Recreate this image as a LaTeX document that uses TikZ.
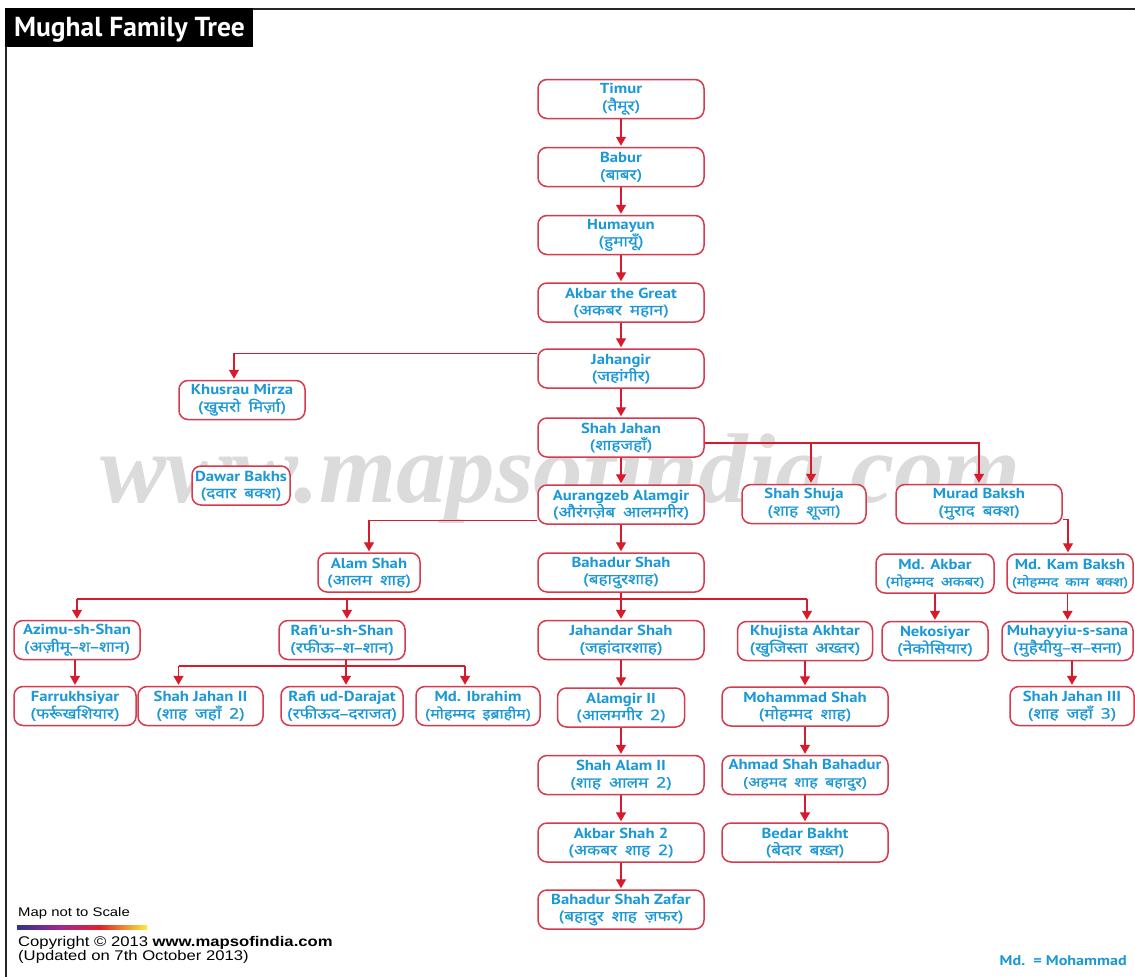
\documentclass[tikz,border=0pt]{standalone}
\usepackage{fontspec}
\setmainfont{PT Sans}
\newfontfamily\engf[FakeStretch=1.15]{PT Sans}
\newfontfamily\hindi[Script=Devanagari, FakeStretch=1.18, WordSpace=1.8, FakeBold=0.8]{Noto Sans}
\newfontfamily\arialf[FakeStretch=1.19]{Liberation Sans}
\newfontfamily\wmfont{Liberation Serif}
\usetikzlibrary{arrows.meta}
\definecolor{mgred}{RGB}{214,28,44}
\definecolor{boxred}{RGB}{214,58,78}
\definecolor{mgblue}{RGB}{28,152,214}
\newcommand\mgn[3][14.5]{{\engf\bfseries\fontsize{14.5}{17}\selectfont #2}\\{\hindi\fontsize{#1}{17}\selectfont (#3)}}
\tikzset{
  person/.style={draw=boxred, line width=1.5pt, fill=white, rounded corners=9pt,
    minimum height=39pt, minimum width=166pt, inner sep=1pt, align=center, text=mgblue,
    font=\engf\fontsize{14.5}{17}\selectfont},
  link/.style={draw=mgred, line width=1.4pt},
  arr/.style={link, -{Triangle[length=9pt,width=10pt]}, shorten >=1pt},
}
\begin{document}
\begin{tikzpicture}[x=1pt,y=-1pt]
\useasboundingbox (0,0) rectangle (1135,977);
\fill[white] (0,0) rectangle (1135,977);
% frame and title
\fill[black] (5,8) rectangle (253,47);
\draw[line width=2pt, black!85] (253,8.5) -- (1135,8.5);
\draw[line width=2pt, black!85] (5.5,47) -- (5.5,977);
\node[anchor=base west, inner sep=0pt, text=white, font=\bfseries\fontsize{27.5}{30}\selectfont] (title) at (14,36) {Mughal Family Tree};
% watermark
\node[anchor=base west, inner sep=0pt, text=gray!28, font=\wmfont\bfseries\itshape\fontsize{99}{99}\selectfont] (wm) at (100,502) {www.mapsofindia.com};
% nodes
\node[person] (timur) at (621,99) {\mgn{Timur}{तैमूर}};
\node[person] (babur) at (621,167) {\mgn{Babur}{बाबर}};
\node[person] (humayun) at (621,235) {\mgn{Humayun}{हुमायूँ}};
\node[person] (akbar) at (621,302.5) {\mgn{Akbar the Great}{अकबर महान}};
\node[person] (jahangir) at (621,368.5) {\mgn{Jahangir}{जहांगीर}};
\node[person, minimum width=126pt] (khusrau) at (242,400) {\mgn{Khusrau Mirza}{खुसरो मिर्ज़ा}};
\node[person] (shahjahan) at (621,437.5) {\mgn{Shah Jahan}{शाहजहाँ}};
\node[person, minimum width=98pt] (dawar) at (241,485.5) {\mgn{Dawar Bakhs}{दवार बक्श}};
\node[person] (aurangzeb) at (621,504.5) {\mgn{Aurangzeb Alamgir}{औरंगज़ेब आलमगीर}};
\node[person, minimum width=124pt] (shuja) at (804,504) {\mgn{Shah Shuja}{शाह शूजा}};
\node[person] (murad) at (979,504) {\mgn{Murad Baksh}{मुराद बक्श}};
\node[person, minimum width=102pt] (alamshah) at (369,572.5) {\mgn{Alam Shah}{आलम शाह}};
\node[person] (bahadur) at (621,572.5) {\mgn{Bahadur Shah}{बहादुरशाह}};
\node[person, minimum width=118pt] (mdakbar) at (935,573.5) {\mgn[13]{Md. Akbar}{मोहम्मद अकबर}};
\node[person, minimum width=126pt] (kambaksh) at (1070,573.5) {\mgn[12.5]{Md. Kam Baksh}{मोहम्मद काम बक्श}};
\node[person, minimum width=126pt] (azimu) at (77,640) {\mgn{Azimu-sh-Shan}{अज़ीमू–श–शान}};
\node[person, minimum width=126pt] (rafiu) at (342,640) {\mgn{Rafi'u-sh-Shan}{रफीऊ–श–शान}};
\node[person] (jahandar) at (621,640) {\mgn{Jahandar Shah}{जहांदारशाह}};
\node[person, minimum width=135pt] (khujista) at (805,641) {\mgn{Khujista Akhtar}{खुजिस्ता अख्तर}};
\node[person, minimum width=106pt] (nekosiyar) at (935,641) {\mgn{Nekosiyar}{नेकोसियार}};
\node[person, minimum width=131pt] (muhayyiu) at (1067.5,641) {\mgn{Muhayyiu-s-sana}{मुहैयीयु–स–सना}};
\node[person, minimum width=122pt] (farrukh) at (75,706) {\mgn{Farrukhsiyar}{फर्रूखशियार}};
\node[person, minimum width=125pt] (sj2) at (200.5,706) {\mgn{Shah Jahan II}{शाह जहाँ 2}};
\node[person, minimum width=122pt] (rafiud) at (342,706) {\mgn{Rafi ud-Darajat}{रफीऊद–दराजत}};
\node[person, minimum width=124pt] (ibrahim) at (478,706) {\mgn[13.5]{Md. Ibrahim}{मोहम्मद इब्राहीम}};
\node[person, minimum width=127pt] (alamgir2) at (621,707.5) {\mgn{Alamgir II}{आलमगीर 2}};
\node[person] (mohshah) at (805,706.5) {\mgn{Mohammad Shah}{मोहम्मद शाह}};
\node[person, minimum width=124pt] (sj3) at (1072,706) {\mgn{Shah Jahan III}{शाह जहाँ 3}};
\node[person] (shahalam2) at (621,775) {\mgn{Shah Alam II}{शाह आलम 2}};
\node[person] (ahmad) at (805,775) {\mgn[13.5]{Ahmad Shah Bahadur}{अहमद शाह बहादुर}};
\node[person] (akbar2) at (621,842.5) {\mgn{Akbar Shah 2}{अकबर शाह 2}};
\node[person] (bedar) at (805,842.5) {\mgn{Bedar Bakht}{बेदार बख़्त}};
\node[person] (zafar) at (621,909.5) {\mgn{Bahadur Shah Zafar}{बहादुर शाह ज़फर}};
% straight descents
\foreach \a/\b in {timur/babur, babur/humayun, humayun/akbar, akbar/jahangir, jahangir/shahjahan,
  shahjahan/aurangzeb, aurangzeb/bahadur, jahandar/alamgir2, alamgir2/shahalam2, shahalam2/akbar2,
  akbar2/zafar, khujista/mohshah, mohshah/ahmad, ahmad/bedar, mdakbar/nekosiyar,
  kambaksh/muhayyiu, muhayyiu/sj3, azimu/farrukh}
  \draw[arr] (\a.south -| \b.north) -- (\b.north);
% Jahangir -> Khusrau
\draw[arr] ([yshift=-5pt]jahangir.north west) -| ([xshift=-8pt]khusrau.north);
% Shah Jahan -> Shuja, Murad
\coordinate (sjl) at ([yshift=-5.5pt]shahjahan.east);
\draw[arr] (sjl) -| (murad.north);
\coordinate (shujatop) at ([xshift=7pt]shuja.north);
\draw[arr] (shujatop |- sjl) -- (shujatop);
% Aurangzeb -> Alam Shah
\draw[arr] ([yshift=4pt]aurangzeb.south west) -| (alamshah.north);
% Murad -> Kam Baksh
\draw[arr] ([yshift=5pt]murad.south east) -| ([xshift=-2pt]kambaksh.north);
% Bahadur Shah -> four sons
\coordinate (bj) at (621,599);
\draw[link] (bahadur.south) -- (bj);
\coordinate (azt) at (azimu.north);
\coordinate (rft) at ([xshift=5pt]rafiu.north);
\coordinate (kht) at ([xshift=2pt]khujista.north);
\draw[link] (azt |- bj) -- (kht |- bj);
\foreach \t in {azt, rft, kht} \draw[arr] (\t |- bj) -- (\t);
\draw[arr] (bj) -- (jahandar.north);
% Rafi'u -> three sons
\coordinate (rj) at (346,666);
\draw[link] (rafiu.south -| rj) -- (rj);
\coordinate (sjt) at ([xshift=-22pt]sj2.north);
\coordinate (rdt) at (rafiud.north -| rj);
\coordinate (ibt) at ([xshift=-13pt]ibrahim.north);
\draw[link] (sjt |- rj) -- (ibt |- rj);
\foreach \t in {sjt, rdt, ibt} \draw[arr] (\t |- rj) -- (\t);
% footer
\node[anchor=base west, inner sep=0pt, font=\arialf\fontsize{12.5}{14}\selectfont] (mns) at (18,916) {Map not to Scale};
\shade[left color={rgb,255:red,50;green,50;blue,140}, right color={rgb,255:red,160;green,40;blue,140}] (17,925) rectangle (60,929.5);
\shade[left color={rgb,255:red,160;green,40;blue,140}, right color={rgb,255:red,225;green,35;blue,40}] (60,925) rectangle (100,929.5);
\shade[left color={rgb,255:red,225;green,35;blue,40}, right color={rgb,255:red,248;green,238;blue,60}] (100,925) rectangle (147,929.5);
\node[anchor=base west, inner sep=0pt, font=\arialf\fontsize{14}{15}\selectfont] (copy) at (18,946) {Copyright © 2013 \textbf{www.mapsofindia.com}};
\node[anchor=base west, inner sep=0pt, font=\arialf\fontsize{14}{15}\selectfont] (upd) at (18,960) {(Updated on 7th October 2013)};
\node[anchor=base east, inner sep=0pt, text=mgblue, font=\engf\bfseries\fontsize{14}{16}\selectfont] (mdnote) at (1127,965) {Md.\ \ = Mohammad};
\end{tikzpicture}
\end{document}
